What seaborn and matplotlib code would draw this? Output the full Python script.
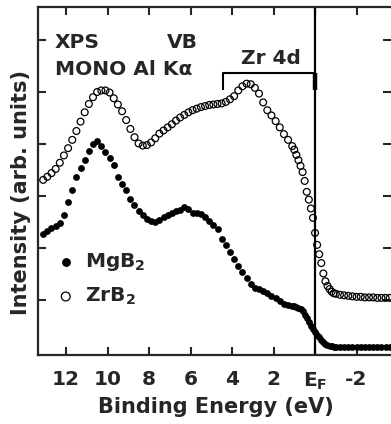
import numpy as np
import pandas as pd
import matplotlib
matplotlib.use("Agg")
import matplotlib.pyplot as plt
import seaborn as sns

# ---------------- data ----------------
energy_ev = [
    13.1, 12.9, 12.7, 12.5, 12.3, 12.1, 11.9, 11.7, 11.5, 11.3, 11.1, 10.9,
    10.7, 10.5, 10.3, 10.1, 9.9, 9.7, 9.5, 9.3, 9.1, 8.9, 8.7, 8.5, 8.3, 8.1,
    7.9, 7.7, 7.5, 7.3, 7.1, 6.9, 6.7, 6.5, 6.3, 6.1, 5.9, 5.7, 5.5, 5.3, 5.1,
    4.9, 4.7, 4.5, 4.3, 4.1, 3.9, 3.7, 3.5, 3.3, 3.1, 2.9, 2.7, 2.5, 2.3, 2.1,
    1.9, 1.7, 1.5, 1.3, 1.1,
    1.0, 0.9, 0.8, 0.7, 0.6, 0.5, 0.4, 0.3, 0.2, 0.1, 0.0, -0.1, -0.2, -0.3,
    -0.4, -0.5, -0.6, -0.7, -0.8, -0.9, -1.0,
    -1.2, -1.4, -1.6, -1.8, -2.0, -2.2, -2.4, -2.6, -2.8, -3.0, -3.2, -3.4, -3.6,
]

mgb2_intensity = [
    2.26, 2.33, 2.38, 2.42, 2.48, 2.64, 2.88, 3.12, 3.37, 3.53, 3.70, 3.86,
    4.00, 4.05, 3.96, 3.84, 3.73, 3.60, 3.36, 3.23, 3.11, 2.95, 2.82, 2.72, 2.63, 2.56,
    2.51, 2.50, 2.54, 2.59, 2.63, 2.67, 2.71, 2.74, 2.79, 2.75, 2.68, 2.67, 2.66, 2.60, 2.52,
    2.45, 2.36, 2.18, 2.06, 1.93, 1.79, 1.66, 1.54, 1.42, 1.30, 1.24, 1.21, 1.18, 1.13, 1.08,
    1.03, 0.98, 0.93, 0.90, 0.89,
    0.88, 0.87, 0.85, 0.82, 0.78, 0.72, 0.66, 0.58, 0.50, 0.44, 0.38, 0.33, 0.29, 0.24,
    0.19, 0.15, 0.13, 0.12, 0.11, 0.10, 0.10,
    0.10, 0.09, 0.10, 0.10, 0.09, 0.10, 0.10, 0.09, 0.10, 0.10, 0.09, 0.10, 0.10,
]

zrb2_intensity = [
    3.31, 3.37, 3.44, 3.52, 3.64, 3.78, 3.92, 4.08, 4.25, 4.43, 4.61, 4.77,
    4.90, 5.00, 5.03, 5.03, 4.99, 4.88, 4.76, 4.63, 4.46, 4.29, 4.13, 4.01, 3.97, 3.98,
    4.03, 4.11, 4.20, 4.26, 4.32, 4.38, 4.45, 4.51, 4.56, 4.61, 4.65, 4.68, 4.71, 4.73, 4.75,
    4.76, 4.77, 4.78, 4.81, 4.86, 4.92, 5.03, 5.11, 5.16, 5.15, 5.08, 4.97, 4.80, 4.65, 4.55,
    4.44, 4.32, 4.19, 4.08, 3.96,
    3.89, 3.79, 3.69, 3.58, 3.46, 3.29, 3.08, 2.93, 2.76, 2.58, 2.29, 2.06, 1.88, 1.71,
    1.51, 1.36, 1.27, 1.21, 1.16, 1.13, 1.12,
    1.10, 1.09, 1.08, 1.07, 1.06, 1.06, 1.05, 1.05, 1.05, 1.04, 1.04, 1.04, 1.04,
]

x_tick_values = [12, 10, 8, 6, 4, 2, 0, -2]
x_tick_labels = ["12", "10", "8", "6", "4", "2", r"E$_{\rm F}$", "-2"]
y_tick_values = [1, 2, 3, 4, 5, 6]
series_labels = [r"MgB$_2$", r"ZrB$_2$"]
zr4d_range = [4.45, 0.0]       # energy span of the Zr 4d bracket
zr4d_bracket_y = [5.04, 5.37]  # leg bottom, bracket top

# ---------------- style ----------------
sns.set_style("ticks")
plt.rcParams.update({
    "font.family": ["DejaVu Sans"],
    "font.weight": "bold",
    "mathtext.fontset": "custom",
    "mathtext.rm": "DejaVu Sans:bold",
    "mathtext.bf": "DejaVu Sans:bold",
    "mathtext.it": "DejaVu Sans:bold",
    "mathtext.sf": "DejaVu Sans:bold",
    "axes.linewidth": 1.6,
})

fig = plt.figure(figsize=(3.91, 4.24), dpi=100)
ax = fig.add_axes([38 / 391, 1 - 355 / 424, (391 - 38) / 391, (355 - 7) / 424])

df = pd.DataFrame({"energy": energy_ev, "MgB2": mgb2_intensity, "ZrB2": zrb2_intensity})

sns.scatterplot(data=df, x="energy", y="MgB2", ax=ax, color="black", s=24,
                linewidth=0, label=series_labels[0], zorder=3)
sns.scatterplot(data=df, x="energy", y="ZrB2", ax=ax, facecolors="none",
                edgecolor="black", s=24, linewidth=0.9, label=series_labels[1], zorder=3)

# Fermi level line
ax.axvline(0, color="black", lw=1.6, zorder=2)

# Zr 4d bracket
ax.plot([zr4d_range[0], zr4d_range[0], zr4d_range[1]],
        [zr4d_bracket_y[0], zr4d_bracket_y[1], zr4d_bracket_y[1]],
        color="black", lw=1.5, solid_capstyle="butt", zorder=2)
ax.plot([zr4d_range[1], zr4d_range[1]], zr4d_bracket_y, color="black", lw=3.2,
        solid_capstyle="butt", zorder=2)

fs = 14.5
ax.text(12.53, 5.85, "XPS", fontsize=fs, fontweight="bold", ha="left", va="baseline")
ax.text(7.13, 5.85, "VB", fontsize=fs, fontweight="bold", ha="left", va="baseline")
ax.text(12.53, 5.33, "MONO Al K\u03b1", fontsize=fs, fontweight="bold", ha="left", va="baseline")
ax.text(2.12, 5.54, "Zr 4d", fontsize=fs, fontweight="bold", ha="center", va="baseline")

ax.set_xlim(13.35, -3.66)
ax.set_ylim(-0.058, 6.635)
ax.set_xticks(x_tick_values)
ax.set_xticklabels(x_tick_labels, fontsize=fs, fontweight="bold")
ax.set_yticks(y_tick_values)
ax.set_yticklabels([])

ax.tick_params(axis="both", which="both", direction="in", length=6, width=1.5,
               top=True, right=True, labelsize=fs)
ax.tick_params(axis="x", pad=11)
ax.spines["right"].set_visible(False)

ax.set_xlabel("Binding Energy (eV)", fontsize=15, fontweight="bold")
ax.set_ylabel("Intensity (arb. units)", fontsize=15, fontweight="bold")
ax.xaxis.set_label_coords(0.505, -0.121)
ax.yaxis.set_label_coords(-0.02, 0.468)

ax.legend(loc="upper left", bbox_to_anchor=(0.05, 0.298), frameon=False,
          fontsize=fs, handlelength=1.0, handletextpad=0.45, labelspacing=0.62,
          borderpad=0, borderaxespad=0, markerscale=1.3)

fig.savefig("out.png", dpi=100)
